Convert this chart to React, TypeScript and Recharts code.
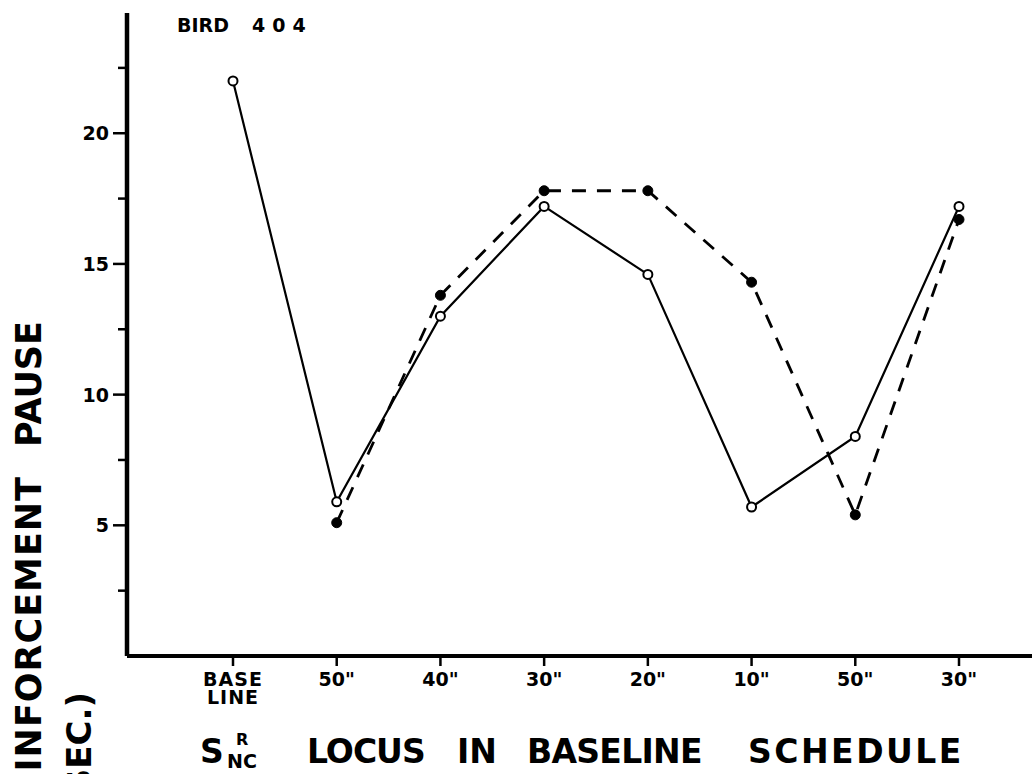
import React from 'react';
import { LineChart, Line, XAxis, YAxis } from 'recharts';

// Schedule positions along the abscissa
const categories: string[] = ['BASE LINE', '50"', '40"', '30"', '20"', '10"', '50"', '30"'];

// Post-reinforcement pause (sec.), open-circle series (solid line)
const openPause: (number | null)[] = [22.0, 5.9, 13.0, 17.2, 14.6, 5.7, 8.4, 17.2];

// Post-reinforcement pause (sec.), filled-circle series (dashed line)
const filledPause: (number | null)[] = [null, 5.1, 13.8, 17.8, 17.8, 14.3, 5.4, 16.7];

// Y-axis tick values: labelled every 5, short marks between
const yTicks: number[] = [2.5, 5, 7.5, 10, 12.5, 15, 17.5, 20, 22.5];

const data = categories.map((c, i) => ({
  idx: i,
  label: c,
  open: openPause[i],
  filled: filledPause[i],
}));

const FONT = '"DejaVu Sans", "Liberation Sans", sans-serif';
const INK = '#000';

const YTick = (props: any) => {
  const { x, y, payload } = props;
  const v = payload.value as number;
  const major = v % 5 === 0;
  return (
    <g>
      <line x1={x - (major ? 14 : 9)} x2={x} y1={y} y2={y} stroke={INK} strokeWidth={2.5} />
      {major && (
        <text
          x={x - 18}
          y={y}
          dy={7}
          textAnchor="end"
          fontFamily={FONT}
          fontWeight="bold"
          fontSize={19}
          fill={INK}
        >
          {v}
        </text>
      )}
    </g>
  );
};

const XTick = (props: any) => {
  const { x, y, payload } = props;
  const text = categories[payload.value as number] ?? '';
  const lines = text.split(' ');
  return (
    <g>
      <line x1={x} x2={x} y1={y} y2={y + 10} stroke={INK} strokeWidth={2.5} />
      <text
        x={x}
        y={y + 30}
        textAnchor="middle"
        fontFamily={FONT}
        fontWeight="bold"
        fontSize={19}
        letterSpacing={lines.length > 1 ? 1 : 0}
        fill={INK}
      >
        {lines.map((t, k) => (
          <tspan key={k} x={x} dy={k === 0 ? 0 : 18}>
            {t}
          </tspan>
        ))}
      </text>
    </g>
  );
};

const YTitle = () => (
  <g fill={INK} fontFamily={FONT} fontWeight="bold">
    <text x={177} y={32} fontSize={19}>BIRD</text>
    <text x={252} y={32} fontSize={19} letterSpacing={7}>404</text>
    <text transform="translate(41, 321) rotate(-90)" textAnchor="end" fontSize={35}>
      PAUSE
    </text>
    <text
      transform="translate(41, 476) rotate(-90)"
      textAnchor="end"
      fontSize={35}
      letterSpacing={1}
    >
      REINFORCEMENT
    </text>
    <text transform="translate(91, 692) rotate(-90)" textAnchor="end" fontSize={34}>
      (SEC.)
    </text>
  </g>
);

const XTitle = () => (
  <g fill={INK} fontFamily={FONT} fontWeight="bold">
    <text x={200} y={763} fontSize={33}>S</text>
    <text x={236} y={745} fontSize={16}>R</text>
    <text x={227} y={768} fontSize={19}>NC</text>
    <text x={307} y={763} fontSize={33} letterSpacing={-1}>LOCUS</text>
    <text x={457} y={763} fontSize={33}>IN</text>
    <text x={527} y={763} fontSize={33} letterSpacing={-0.7}>BASELINE</text>
    <text x={748} y={763} fontSize={33} letterSpacing={2.5}>SCHEDULE</text>
  </g>
);

export default function App() {
  return (
    <div
      style={{
        position: 'absolute',
        left: 0,
        top: 0,
        width: 1032,
        height: 774,
        background: '#fff',
        overflow: 'hidden',
      }}
    >
      <LineChart
        width={1032}
        height={774}
        data={data}
        margin={{ top: 13, right: 0, bottom: 0, left: 0 }}
      >
        <XAxis
          dataKey="idx"
          type="category"
          padding={{ left: 106, right: 73 }}
          height={118}
          axisLine={{ stroke: INK, strokeWidth: 4 }}
          tickLine={false}
          tickSize={0}
          tickMargin={0}
          tick={<XTick />}
          interval={0}
          label={{ content: () => <XTitle /> }}
        />
        <YAxis
          type="number"
          domain={[0, 24.6]}
          ticks={yTicks}
          width={127}
          axisLine={{ stroke: INK, strokeWidth: 4.5 }}
          tickLine={false}
          tickSize={0}
          tickMargin={0}
          tick={<YTick />}
          interval={0}
          label={{ content: () => <YTitle /> }}
        />
        <Line
          dataKey="filled"
          type="linear"
          stroke={INK}
          strokeWidth={2.8}
          strokeDasharray="14 11"
          connectNulls={false}
          dot={{ r: 5, fill: INK, stroke: INK, strokeWidth: 1, strokeDasharray: 'none' }}
          isAnimationActive={false}
        />
        <Line
          dataKey="open"
          type="linear"
          stroke={INK}
          strokeWidth={2.2}
          dot={{ r: 4.5, fill: '#fff', stroke: INK, strokeWidth: 2 }}
          isAnimationActive={false}
        />
      </LineChart>
    </div>
  );
}
